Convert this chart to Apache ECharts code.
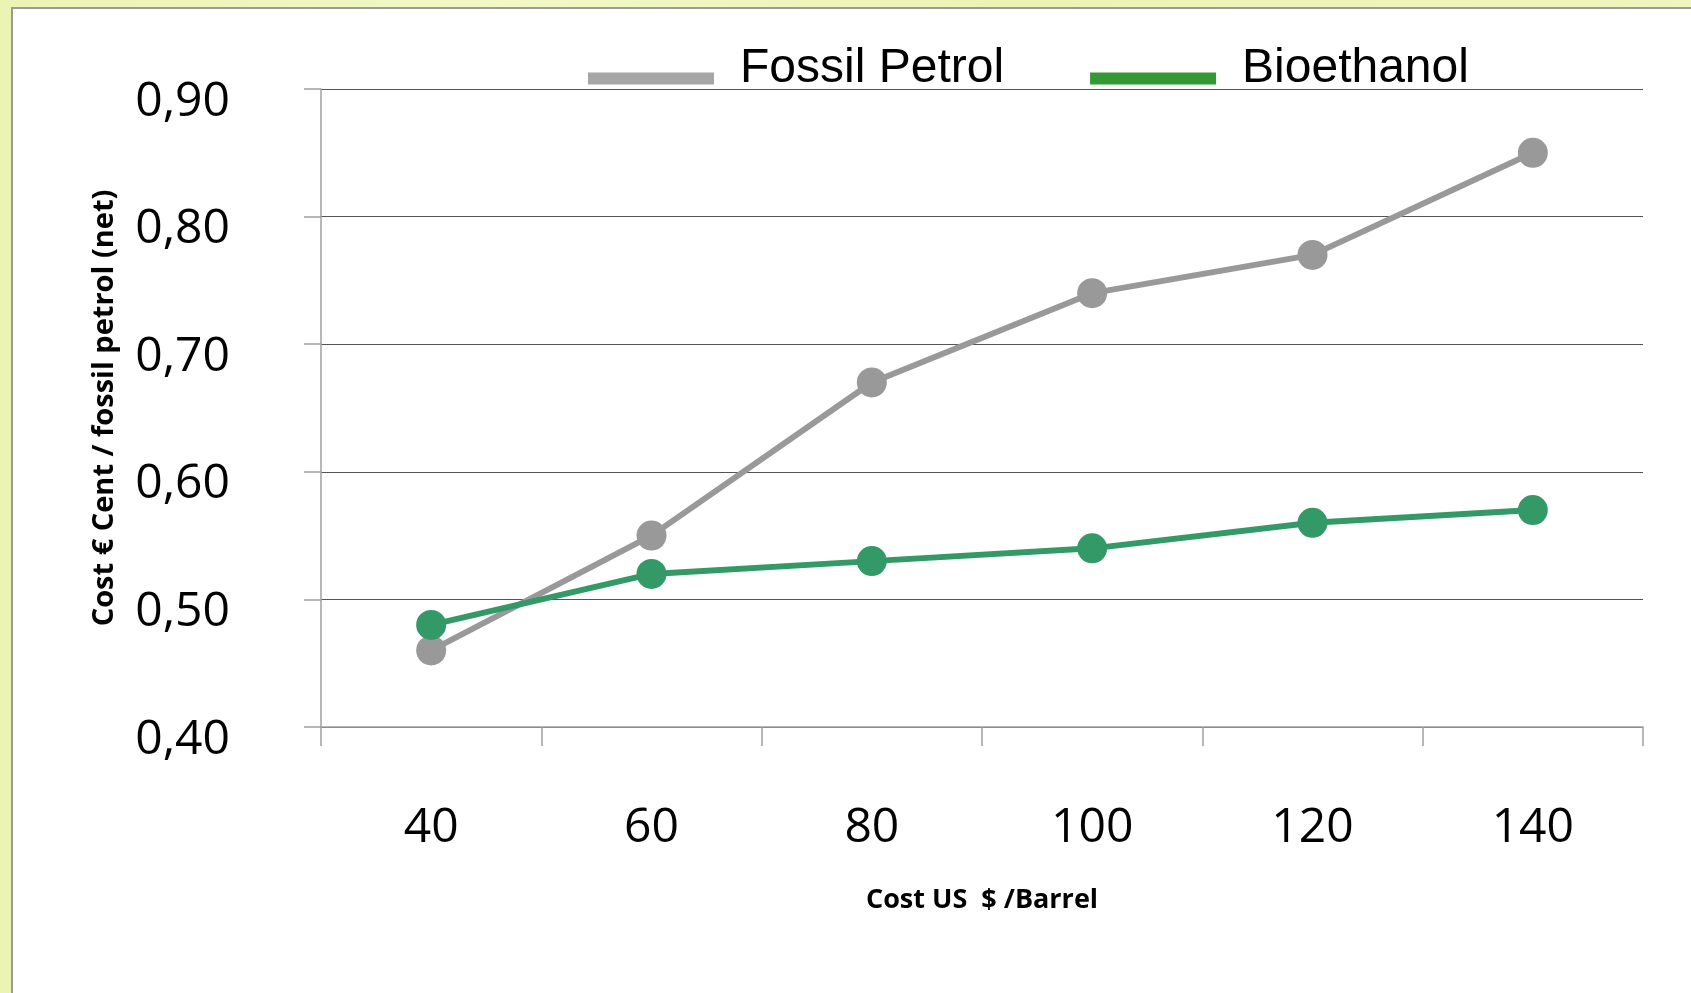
<!DOCTYPE html>
<html>
<head>
<meta charset="utf-8">
<script src="https://cdn.jsdelivr.net/npm/echarts@6/dist/echarts.min.js"></script>
<style>
  html, body { margin: 0; padding: 0; width: 100%; height: 100%; overflow: hidden; }
  body { background: linear-gradient(90deg, #ecf4b4 0%, #f1f8c6 30%, #ecf4b4 60%, #eef6bd 100%); }
  #panel { position: absolute; left: 11px; top: 7px; right: 0; bottom: 0; background: #fff;
           border-left: 2px solid #9a9a9a; border-top: 2px solid #9a9a9a; }
  #chart { position: absolute; left: 0; top: 0; width: 1691px; height: 993px; }
</style>
</head>
<body>
<div id="panel"></div>
<div id="chart"></div>
<script>
// oil price (US $ / barrel)
const barrelPrice = ['40', '60', '80', '100', '120', '140'];
// cost per litre equivalent
const fossilPetrol = [0.46, 0.55, 0.67, 0.74, 0.77, 0.85];
const bioethanol = [0.48, 0.52, 0.53, 0.54, 0.56, 0.57];

const yTitle = 'Cost € Cent / fossil petrol (net)';
const xTitle = 'Cost US  $ /Barrel';

let myChart = echarts.init(document.getElementById('chart'), null, { renderer: 'canvas' });

// legend bar sits a bit below the text centre, the leading moveTo keeps the space above it
const legendBar = 'path://M0,0 M0,19 L126,19 L126,31 L0,31 Z';

let option = {
  backgroundColor: 'transparent',
  animation: false,
  legend: {
    left: 583,
    top: 40,
    itemWidth: 126,
    itemHeight: 31,
    itemGap: 86,
    icon: legendBar,
    textStyle: {
      fontFamily: 'Liberation Sans',
      fontSize: 48,
      color: '#000',
      padding: [0, 0, 0, 21]
    },
    data: [
      { name: 'Fossil Petrol', itemStyle: { color: '#a6a6a6' } },
      { name: 'Bioethanol', itemStyle: { color: '#339933' } }
    ]
  },
  grid: {
    left: 321,
    top: 89,
    right: 48,
    bottom: 266
  },
  xAxis: {
    type: 'category',
    data: barrelPrice,
    boundaryGap: true,
    name: xTitle,
    nameLocation: 'middle',
    nameGap: 160,
    nameTextStyle: {
      fontFamily: 'Open Sans',
      fontWeight: 'bold',
      fontSize: 27,
      color: '#000'
    },
    axisLine: { lineStyle: { color: '#a0a0a0', width: 1.5 } },
    axisTick: { show: true, length: 19, lineStyle: { color: '#a0a0a0', width: 1.5 } },
    axisLabel: {
      fontFamily: 'Open Sans',
      fontSize: 48,
      color: '#000',
      margin: 77
    },
    splitLine: { show: false }
  },
  yAxis: {
    type: 'value',
    min: 0.4,
    max: 0.9,
    interval: 0.1,
    name: yTitle,
    nameLocation: 'middle',
    nameGap: 202,
    nameRotate: 90,
    nameTextStyle: {
      fontFamily: 'Open Sans',
      fontWeight: 'bold',
      fontSize: 29,
      color: '#000'
    },
    axisLine: { show: true, lineStyle: { color: '#a0a0a0', width: 1.5 } },
    axisTick: { show: true, length: 17, lineStyle: { color: '#a0a0a0', width: 1.5 } },
    axisLabel: {
      fontFamily: 'Open Sans',
      fontSize: 48,
      color: '#000',
      margin: 91,
      verticalAlign: 'top',
      lineHeight: 26,
      formatter: function (v) {
        return v.toFixed(2).replace('.', ',');
      }
    },
    splitLine: { show: true, lineStyle: { color: '#555', width: 1.2 } }
  },
  series: [
    {
      name: 'Fossil Petrol',
      type: 'line',
      data: fossilPetrol,
      symbol: 'circle',
      symbolSize: 30,
      lineStyle: { color: '#999999', width: 6 },
      itemStyle: { color: '#999999' }
    },
    {
      name: 'Bioethanol',
      type: 'line',
      data: bioethanol,
      symbol: 'circle',
      symbolSize: 30,
      lineStyle: { color: '#339966', width: 6 },
      itemStyle: { color: '#339966' }
    }
  ]
};

myChart.setOption(option);
window.addEventListener('resize', () => {
  myChart.resize();
});
</script>
</body>
</html>
